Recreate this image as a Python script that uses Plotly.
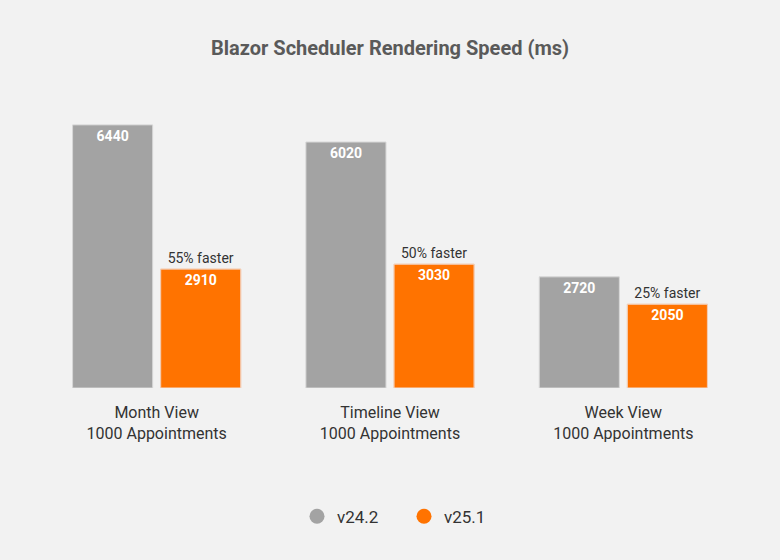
import plotly.graph_objects as go

categories = ["Month View<br>1000 Appointments",
              "Timeline View<br>1000 Appointments",
              "Week View<br>1000 Appointments"]
v24_2 = [6440, 6020, 2720]
v25_1 = [2910, 3030, 2050]
speedup = ["55% faster", "50% faster", "25% faster"]

gray = "#a3a3a3"
orange = "#ff7300"

fig = go.Figure()

fig.add_trace(go.Bar(
    x=categories, y=v24_2, name="v24.2", offsetgroup="a",
    marker=dict(color=gray, line=dict(color="#d6d6d6", width=1)),
    text=v24_2, textposition="inside", insidetextanchor="end",
    textfont=dict(family="Roboto", size=14, color="white", weight="bold"),
    showlegend=False, hoverinfo="skip",
))
fig.add_trace(go.Bar(
    x=categories, y=v25_1, name="v25.1", offsetgroup="b",
    marker=dict(color=orange, line=dict(color="#ffb07a", width=1)),
    text=v25_1, textposition="inside", insidetextanchor="end",
    textfont=dict(family="Roboto", size=14, color="white", weight="bold"),
    showlegend=False, hoverinfo="skip",
))
# transparent twin of the orange bars, only to carry the "faster" labels
fig.add_trace(go.Bar(
    x=categories, y=v25_1, offsetgroup="b",
    marker=dict(color="rgba(0,0,0,0)"),
    text=speedup, textposition="outside", cliponaxis=False,
    textfont=dict(family="Roboto", size=14, color="#333333"),
    showlegend=False, hoverinfo="skip",
))

# legend entries with round markers
for name, col in [("v24.2", gray), ("v25.1", orange)]:
    fig.add_trace(go.Scatter(
        x=[None], y=[None], mode="markers", name=name,
        marker=dict(color=col, size=15, symbol="circle"),
    ))

fig.update_layout(
    width=780, height=560,
    paper_bgcolor="#f2f2f2", plot_bgcolor="#f2f2f2",
    barmode="group", bargap=0.245, bargroupgap=0.091,
    margin=dict(l=40, r=40, t=102, b=172),
    title=dict(text="<b>Blazor Scheduler Rendering Speed (ms)</b>",
               x=0.5, xanchor="center", y=0.915, yanchor="middle",
               font=dict(family="Roboto", size=20, color="#5a5a5a")),
    font=dict(family="Roboto", color="#333333"),
    xaxis=dict(showgrid=False, showline=False, zeroline=False, ticks="",
               ticklabelstandoff=13,
               tickfont=dict(family="Roboto", size=16, color="#333333")),
    yaxis=dict(range=[0, 7000], visible=False),
    legend=dict(orientation="h", x=0.52, xanchor="center", y=-0.45, yanchor="middle",
                font=dict(family="Roboto", size=17, color="#333333"),
                itemwidth=30, entrywidth=62, entrywidthmode="pixels"),
    showlegend=True,
)

fig.write_html("out.html", config={"displayModeBar": False},
               post_script="document.body.style.margin='0';")
